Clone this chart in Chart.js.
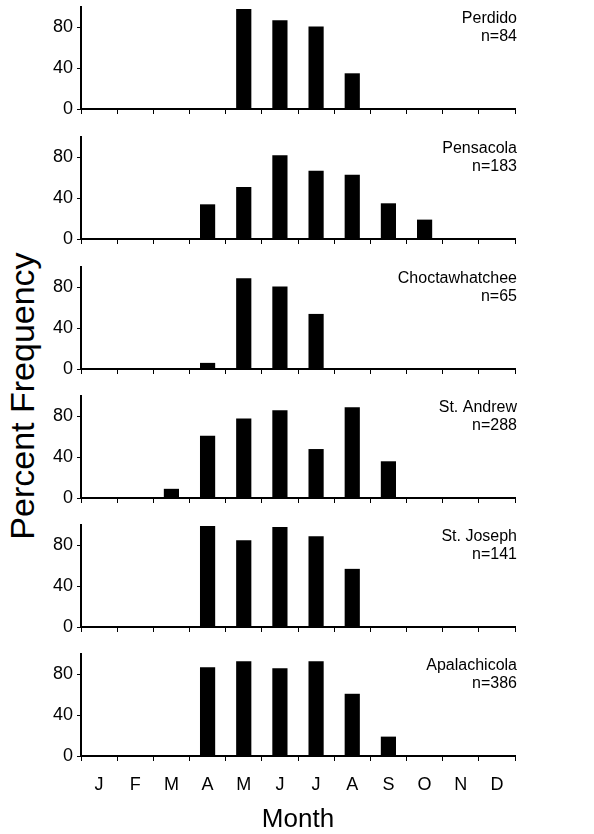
<!DOCTYPE html>
<html>
<head>
<meta charset="utf-8">
<script src="https://cdn.jsdelivr.net/npm/chart.js@4/dist/chart.umd.min.js"></script>
<style>
  html, body { margin: 0; padding: 0; background: #fff; }
  #wrap { position: relative; width: 594px; height: 834px; overflow: hidden; background: #fff; }
  canvas { position: absolute; left: 0; }
  #ytitle {
    position: absolute; left: -178.5px; top: 379px; width: 400px; height: 34px;
    line-height: 34px; font-size: 34px; font-family: "Liberation Sans", Arial, sans-serif;
    text-align: center; color: #000; transform: rotate(-90deg); transform-origin: 50% 50%;
    white-space: nowrap;
  }
</style>
</head>
<body>
<div id="wrap">
  <div id="ytitle">Percent Frequency</div>
</div>
<script>
const months = ['J','F','M','A','M','J','J','A','S','O','N','D'];
const sites = ['Perdido','Pensacola','Choctawhatchee','St. Andrew','St. Joseph','Apalachicola'];
const nLabels = ['n=84','n=183','n=65','n=288','n=141','n=386'];
const yTickValues = [0, 40, 80];
const perdido        = [0,0,0,0,98,87,81,35,0,0,0,0];
const pensacola      = [0,0,0,34,51,82,67,63,35,19,0,0];
const choctawhatchee = [0,0,0,6,89,81,54,0,0,0,0,0];
const stAndrew       = [0,0,9,61,78,86,48,89,36,0,0,0];
const stJoseph       = [0,0,0,99,85,98,89,57,0,0,0,0];
const apalachicola   = [0,0,0,87,93,86,93,61,19,0,0,0];
const seriesList = [perdido, pensacola, choctawhatchee, stAndrew, stJoseph, apalachicola];
const xTitle = 'Month';

const FONT = '"Liberation Sans", Arial, sans-serif';
const panelTops = [7, 137, 267, 396, 525, 654];
const plotH = 102;
const padTop = 6;

const labelPlugin = {
  id: 'panelLabel',
  afterDraw(chart, args, opts) {
    const ctx = chart.ctx, a = chart.chartArea;
    ctx.save();
    ctx.fillStyle = '#000';
    ctx.font = '16px ' + FONT;
    ctx.textAlign = 'right';
    ctx.textBaseline = 'middle';
    ctx.fillText(opts.name, 517, a.top + 12);
    ctx.fillText(opts.n, 517, a.top + 30);
    ctx.restore();
  }
};

const wrap = document.getElementById('wrap');
seriesList.forEach((data, i) => {
  const last = i === seriesList.length - 1;
  const top = panelTops[i] - padTop;
  const h = last ? (834 - top) : (plotH + padTop + 8);
  const xH = last ? (834 - (panelTops[i] + plotH)) : 8;
  const cv = document.createElement('canvas');
  cv.width = 594; cv.height = h;
  cv.style.top = top + 'px';
  cv.style.width = '594px'; cv.style.height = h + 'px';
  wrap.appendChild(cv);
  new Chart(cv, {
    type: 'bar',
    data: {
      labels: months,
      datasets: [{ data: data, backgroundColor: '#000', borderWidth: 0,
        barPercentage: 0.42, categoryPercentage: 1.0 }]
    },
    plugins: [labelPlugin],
    options: {
      responsive: false,
      animation: false,
      devicePixelRatio: 1,
      layout: { padding: { left: 0, right: 79, top: padTop, bottom: 0 } },
      plugins: {
        legend: { display: false },
        tooltip: { enabled: false },
        title: { display: false },
        panelLabel: { name: sites[i], n: nLabels[i] }
      },
      scales: {
        x: {
          type: 'category',
          offset: true,
          grid: { display: true, offset: true, drawOnChartArea: false, drawTicks: true,
                  tickLength: 5, color: '#000', lineWidth: 1 },
          border: { display: true, color: '#000', width: 2 },
          ticks: { display: last, color: '#000', font: { family: FONT, size: 18 },
                   padding: 13, maxRotation: 0, autoSkip: false },
          title: { display: last, text: xTitle, color: '#000',
                   font: { family: FONT, size: 26, lineHeight: 1 },
                   padding: { top: 0, bottom: 1 } },
          afterFit(s) { s.height = xH; s.paddingLeft = 0; s.paddingRight = 0; }
        },
        y: {
          min: 0, max: 100,
          grid: { display: true, drawOnChartArea: false, drawTicks: true,
                  tickLength: 4, color: '#000', lineWidth: 1 },
          border: { display: true, color: '#000', width: 2 },
          ticks: { stepSize: 20, color: '#000', padding: 4,
                   font: { family: FONT, size: 18 },
                   callback: (v) => yTickValues.includes(v) ? String(v) : '' },
          afterFit(s) { s.width = 81; s.paddingTop = 0; s.paddingBottom = 0; }
        }
      }
    }
  });
});
</script>
</body>
</html>
